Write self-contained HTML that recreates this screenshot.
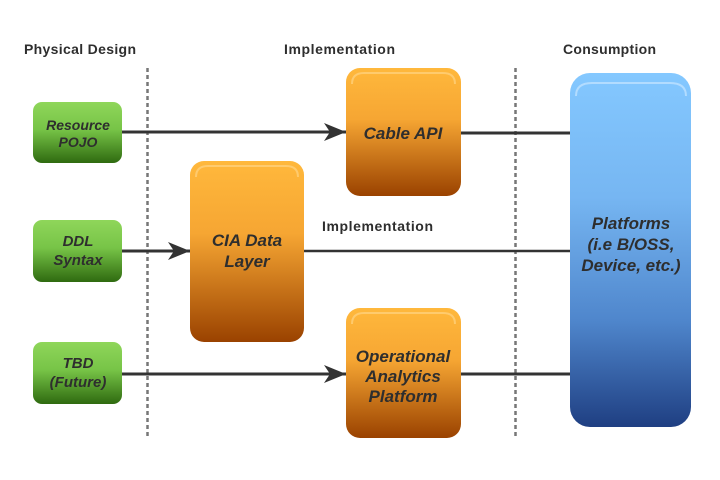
<!DOCTYPE html>
<html><head><meta charset="utf-8"><style>
html,body{margin:0;padding:0;background:#fff;}
svg{display:block;}
text{font-family:"Liberation Sans",sans-serif;fill:#2e2e2e;}
.h{font-size:14px;font-weight:bold;}
.n{font-style:italic;font-weight:bold;text-anchor:middle;}
</style></head><body>
<svg width="720" height="480" viewBox="0 0 720 480" xmlns="http://www.w3.org/2000/svg">
<defs>
<linearGradient id="g" x1="0" y1="0" x2="0" y2="1"><stop offset="0" stop-color="#8fd65a"/><stop offset="0.45" stop-color="#77c447"/><stop offset="1" stop-color="#2f6a10"/></linearGradient>
<linearGradient id="o" x1="0" y1="0" x2="0" y2="1"><stop offset="0" stop-color="#ffb83c"/><stop offset="0.4" stop-color="#f6a633"/><stop offset="1" stop-color="#9a4200"/></linearGradient>
<linearGradient id="b" x1="0" y1="0" x2="0" y2="1"><stop offset="0" stop-color="#84c8ff"/><stop offset="0.35" stop-color="#76b6f2"/><stop offset="0.7" stop-color="#4f86cc"/><stop offset="1" stop-color="#1f3f82"/></linearGradient>
<marker id="a" markerWidth="22" markerHeight="18" refX="22" refY="9" orient="auto" markerUnits="userSpaceOnUse"><path d="M0,0 L22,9 L0,18 L6,9 Z" fill="#333"/></marker>
</defs>
<text class="h" x="24" y="54" textLength="112">Physical Design</text>
<text class="h" x="284" y="54" textLength="111">Implementation</text>
<text class="h" x="563" y="54" textLength="93">Consumption</text>
<line x1="147.5" y1="68" x2="147.5" y2="436" stroke="#777" stroke-width="2.5" stroke-dasharray="4,3"/>
<line x1="515.5" y1="68" x2="515.5" y2="436" stroke="#777" stroke-width="2.5" stroke-dasharray="4,3"/>
<g stroke="#333" stroke-width="3">
<line x1="122" y1="132" x2="346" y2="132" marker-end="url(#a)"/>
<line x1="461" y1="133" x2="572" y2="133"/>
<line x1="122" y1="251" x2="190" y2="251" marker-end="url(#a)"/>
<line x1="304" y1="251" x2="572" y2="251" stroke-width="2.5"/>
<line x1="122" y1="374" x2="346" y2="374" marker-end="url(#a)"/>
<line x1="461" y1="374" x2="572" y2="374"/>
</g>
<text class="h" x="322" y="231" textLength="111">Implementation</text>
<g>
<rect x="33" y="102" width="89" height="61" rx="9" fill="url(#g)"/>
<rect x="33" y="220" width="89" height="62" rx="9" fill="url(#g)"/>
<rect x="33" y="342" width="89" height="62" rx="9" fill="url(#g)"/>
<text class="n" x="78" y="130" font-size="14">Resource</text><text class="n" x="78" y="147" font-size="14">POJO</text>
<text class="n" x="78" y="246" font-size="15">DDL</text><text class="n" x="78" y="265" font-size="15">Syntax</text>
<text class="n" x="78" y="368" font-size="15">TBD</text><text class="n" x="78" y="387" font-size="15">(Future)</text>
</g>
<rect x="346" y="68" width="115" height="128" rx="14" fill="url(#o)"/>
<rect x="190" y="161" width="114" height="181" rx="14" fill="url(#o)"/>
<rect x="346" y="308" width="115" height="130" rx="14" fill="url(#o)"/>
<path d="M352,84 Q352,73 364,73 L443,73 Q455,73 455,84" fill="none" stroke="#ffd890" stroke-width="2" opacity="0.6"/>
<path d="M196,177 Q196,166 208,166 L286,166 Q298,166 298,177" fill="none" stroke="#ffd890" stroke-width="2" opacity="0.6"/>
<path d="M352,324 Q352,313 364,313 L443,313 Q455,313 455,324" fill="none" stroke="#ffd890" stroke-width="2" opacity="0.6"/>
<text class="n" x="403" y="139" font-size="17">Cable API</text>
<text class="n" x="247" y="246" font-size="17">CIA Data</text><text class="n" x="247" y="267" font-size="17">Layer</text>
<text class="n" x="403" y="362" font-size="17">Operational</text><text class="n" x="403" y="382" font-size="17">Analytics</text><text class="n" x="403" y="402" font-size="17">Platform</text>
<rect x="570" y="73" width="121" height="354" rx="20" fill="url(#b)"/>
<path d="M576,96 Q576,83 592,83 L670,83 Q686,83 686,96" fill="none" stroke="#c6e6ff" stroke-width="2" opacity="0.7"/>
<text class="n" x="631" y="229" font-size="17">Platforms</text><text class="n" x="631" y="250" font-size="17">(i.e B/OSS,</text><text class="n" x="631" y="271" font-size="17">Device, etc.)</text>
</svg>
</body></html>
